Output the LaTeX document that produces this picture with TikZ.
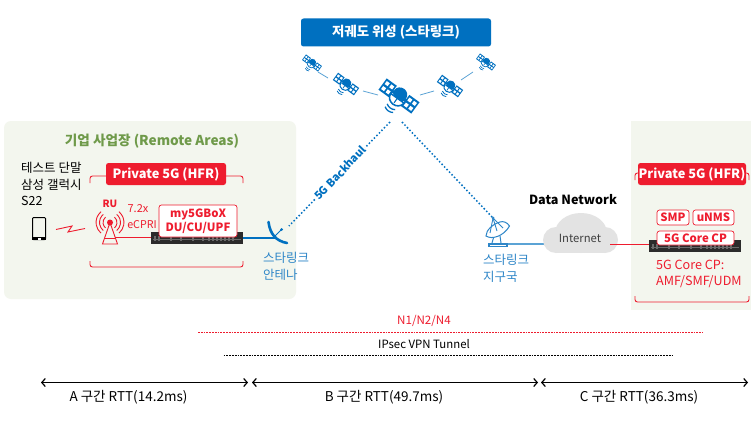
\documentclass[tikz,border=0pt]{standalone}
\usepackage{fontspec}
\setmainfont{Noto Sans CJK KR}
\usetikzlibrary{arrows.meta}
\definecolor{sband}{HTML}{0070C0}
\definecolor{hred}{HTML}{EE1C2E}
\definecolor{areabg}{HTML}{F3F6EE}
\definecolor{areatx}{HTML}{6F9A4A}
\definecolor{skyb}{HTML}{2E86C8}
\definecolor{linkb}{HTML}{5BA3D5}
\definecolor{cloudc}{HTML}{E3E3E3}
\definecolor{srvd}{HTML}{2B2B2B}
\definecolor{srvl}{HTML}{6A6A6A}
\tikzset{
 labeltx/.style={inner sep=0pt,align=left,anchor=west,font=\fontsize{12.5}{16.5}\selectfont},
 redbanner/.style={fill=hred,rounded corners=2.5pt,text=white,inner sep=0pt,font=\bfseries\fontsize{12.8}{14}\selectfont},
 redtag/.style={draw=hred,fill=white,rounded corners=2.5pt,text=hred,inner sep=0pt,line width=.7pt,align=center,font=\bfseries\fontsize{11.4}{14.5}\selectfont},
 brace/.style={draw=hred,line width=.9pt,rounded corners=2.5pt},
 rtt/.style={{Straight Barb[length=3.5pt,width=8pt]}-{Straight Barb[length=3.5pt,width=8pt]},line width=1.2pt,black},
 rtttx/.style={inner sep=0pt,font=\fontsize{13.5}{15}\selectfont},
 satlink/.style={draw=linkb,line width=.8pt},
 backhaul/.style={draw=sband,line width=1.5pt,dash pattern=on 1.5pt off 2.1pt},
 srvbox/.style={fill=srvd,inner sep=0pt},
}
% x, y, scale
\newcommand{\satellite}[3]{%
 \begin{scope}[shift={(#1,#2)},scale=#3,rotate=54]
   \fill[sband] (-5,-14.5) rectangle (5,-5.5);
   \fill[sband] (-5,5.5) rectangle (5,14.5);
   \fill[sband] (-1,-6) rectangle (1,6);
   \foreach \a in {-1,1}{\foreach \b in {-12,-8,8,12}{
     \fill[white] (\a*2.2-1.3,\b-1.3) rectangle (\a*2.2+1.3,\b+1.3);}}
   \fill[sband] (1.5,0) ellipse[x radius=4.8,y radius=5.2];
   \draw[sband,line width=#3*1.1pt,fill=white] (-2,-6) .. controls (-9,-5) and (-9,5) .. (-2,6) -- cycle;
   \draw[sband,line width=#3*.8pt] (-2,0) -- (-6,0);
   \draw[sband,line width=#3*.9pt] (-9.5,-3.5) .. controls (-11,-1.5) and (-11,1.5) .. (-9.5,3.5);
   \draw[sband,line width=#3*.9pt] (-12,-3.5) .. controls (-13.5,-1.5) and (-13.5,1.5) .. (-12,3.5);
 \end{scope}}
% node name, x, y
\newcommand{\rackserver}[3]{%
 \node[srvbox,minimum width=92pt,minimum height=12pt] (#1) at (#2,#3) {};
 \foreach \d in {-42,-38,-26,-16,-4,6,12,16,20,24,28,32,36}{
   \fill[srvl] (#2+\d-1,#3-2) rectangle (#2+\d+1,#3+3);}
 \fill[srvl] (#2-44,#3+.5) rectangle (#2+44,#3+1);}
\begin{document}
\begin{tikzpicture}[x=1pt,y=-1pt]
\useasboundingbox (0,0) rectangle (751,420);
\fill[white] (0,0) rectangle (751,420);
% areas
\fill[areabg,rounded corners=7pt] (4,121) rectangle (296,299);
\fill[areabg] (631,121) rectangle (751,310);
% top banner
\node[fill=sband,rounded corners=2.5pt,minimum width=190pt,minimum height=28pt,text=white,inner sep=0pt,font=\bfseries\fontsize{13.4}{15}\selectfont] (top) at (396,32.5) {저궤도 위성 (스타링크)};
% satellites
\satellite{312}{63}{.68}
\satellite{346}{84}{.9}
\satellite{399}{96}{1.4}
\satellite{450}{86}{.9}
\satellite{486}{62}{.68}
\coordinate (sl1a) at (318,72); \coordinate (sl1b) at (328,78);
\coordinate (sl2a) at (363,91); \coordinate (sl2b) at (378,95);
\coordinate (sl3a) at (420,95); \coordinate (sl3b) at (434,91);
\coordinate (sl4a) at (461,80); \coordinate (sl4b) at (473,72);
\draw[satlink] (sl1a) -- (sl1b);
\draw[satlink] (sl2a) -- (sl2b);
\draw[satlink] (sl3a) -- (sl3b);
\draw[satlink] (sl4a) -- (sl4b);
% backhaul
\coordinate (bhtop1) at (390,122); \coordinate (bhend1) at (289,226); \coordinate (dishfeed) at (281.5,229.5);
\coordinate (bhtop2) at (402,122); \coordinate (gsfeed) at (493,218);
\draw[backhaul] (bhtop1) -- (bhend1);
\draw[backhaul] (bhtop2) -- (gsfeed);
\node[text=sband,fill=white,inner sep=1pt,rotate=46,font=\bfseries\fontsize{11}{13}\selectfont] (bhlabel) at (340,173) {5G Backhaul};
% left area
\node[text=areatx,inner sep=0pt,font=\bfseries\fontsize{13.6}{15}\selectfont] (lefttitle) at (152,141) {기업 사업장 (Remote Areas)};
\node[labeltx,anchor=north west] (tester) at (21,162) {테스트 단말\\삼성 갤럭시\\S22};
% phone
\draw[black,line width=1pt,rounded corners=1pt] (32.5,217.5) rectangle (45.5,239.5);
\fill[black] (32,237) rectangle (46,240);
\fill[white] (37.5,238) rectangle (40.5,239.5);
\coordinate (lz1) at (56,229.5); \coordinate (lz2) at (72,226); \coordinate (lz3) at (68,232); \coordinate (lz4) at (85,228.5);
\draw[hred,line width=.9pt] (lz1) -- (lz2) -- (lz3) -- (lz4);
% braces left
\draw[brace] (90,183) -- (90,176) -- (243,176) -- (243,183);
\draw[brace] (90,261) -- (90,267) -- (243,267) -- (243,261);
\node[redbanner,minimum width=120pt,minimum height=22pt] (pvta) at (166,174) {Private 5G (HFR)};
% RU
\node[text=hred,inner sep=0pt,font=\bfseries\fontsize{10}{12}\selectfont] (rulabel) at (110,204) {RU};
\coordinate (rutop) at (110,222.5);
\draw[hred,line width=.9pt] (rutop) -- (102.5,244) -- (117.5,244) -- cycle;
\draw[hred,line width=.8pt] (105,238) -- (115,238);
\fill[hred] (rutop) circle[radius=3];
\foreach \r in {7,10.5,14}{
  \draw[hred,line width=.9pt] (110+\r*0.64,222.5-\r*0.77) arc[start angle=-50,end angle=50,radius=\r];
  \draw[hred,line width=.9pt] (110-\r*0.64,222.5-\r*0.77) arc[start angle=230,end angle=130,radius=\r];
}
\node[text=hred,inner sep=0pt,font=\fontsize{11}{12}\selectfont] (vii) at (138,209) {7.2x};
\node[text=hred,inner sep=0pt,font=\fontsize{10.7}{12}\selectfont] (ecpri) at (142,225) {eCPRI};
\coordinate (ruport) at (115,237);
\coordinate (srvaport) at (152,237);
\draw[hred,line width=.9pt] (ruport) -- (srvaport);
\rackserver{srva}{197}{238}
\node[redtag,minimum width=78pt,minimum height=32pt] (boxa) at (198,221) {my5GBoX\\DU/CU/UPF};
% starlink dish
\coordinate (dishbase) at (275,236);
\draw[sband,line width=1.2pt] (srva.east) -- (276,238);
\draw[sband,line width=2.6pt,line cap=round] (268.5,222) .. controls (270,234) and (276,241) .. (287,243);
\draw[sband,line width=1pt] (dishbase) -- (dishfeed);
\fill[sband] (dishfeed) circle[radius=1.5];
\node[labeltx,text=skyb,anchor=north west] (dishlabel) at (263,252) {스타링크\\안테나};
% ground station
\draw[skyb,line width=1pt] (494,236) -- (492,243);
\draw[skyb,line width=1pt] (500,236) -- (501,243);
\draw[skyb,line width=1pt,fill=white] (486,236) .. controls (492,240) and (504,236) .. (509.5,226) .. controls (507,222) and (503,221) .. (500,222) .. controls (493,224) and (486,230) .. (486,236) -- cycle;
\draw[skyb,line width=.9pt] (gsfeed) -- (490,233);
\draw[skyb,line width=.9pt] (gsfeed) -- (503,228);
\draw[skyb,line width=.9pt] (gsfeed) -- (497,231);
\fill[skyb] (gsfeed) circle[radius=1.5];
\fill[skyb] (488,243) rectangle (508,247);
\fill[white] (490,244.6) rectangle (506,245.4);
\node[labeltx,text=skyb,anchor=north west] (gslabel) at (483,254) {스타링크\\지구국};
% cloud
\node[inner sep=0pt,font=\bfseries\fontsize{12.6}{14}\selectfont] (dn) at (573,200) {Data Network};
\coordinate (gsport) at (508,244);
\coordinate (cloudw) at (544,244);
\draw[linkb,line width=1.3pt] (gsport) -- (cloudw);
\fill[cloudc] (556,240) circle[radius=13];
\fill[cloudc] (605,240) circle[radius=13];
\fill[cloudc] (581,233) ellipse[x radius=26,y radius=20];
\fill[cloudc] (556,240) rectangle (605,253);
\node[inner sep=0pt,text=black!75,font=\fontsize{11.3}{13}\selectfont] (inet) at (580,238) {Internet};
\coordinate (cloude) at (610,244);
\coordinate (srvbport) at (649,244);
\draw[hred,line width=.9pt] (cloude) -- (srvbport);
% right area
\draw[brace] (635,180) -- (635,173) -- (749,173) -- (749,180);
\draw[brace] (635,296) -- (635,302) -- (749,302) -- (749,296);
\node[redbanner,minimum width=108pt,minimum height=22pt] (pvtb) at (692,174) {Private 5G (HFR)};
\rackserver{srvb}{694.5}{246}
\node[redtag,minimum width=32pt,minimum height=15pt] (smp) at (673,217.5) {SMP};
\node[redtag,minimum width=41pt,minimum height=15pt] (unms) at (713.5,217.5) {uNMS};
\node[redtag,minimum width=77pt,minimum height=14pt] (cp) at (695.5,238) {5G Core CP};
\node[labeltx,text=hred,anchor=north west,font=\fontsize{12.6}{15.5}\selectfont] (cpnote) at (656,260) {5G Core CP:\\AMF/SMF/UDM};
% bottom
\node[rtttx,text=hred,font=\fontsize{11.6}{13}\selectfont] (nlabel) at (424,321) {N1/N2/N4};
\coordinate (na) at (198,332.5); \coordinate (nb) at (703,332.5);
\draw[hred,line width=1.1pt,dash pattern=on 1.8pt off 1pt] (na) -- (nb);
\node[rtttx,font=\fontsize{11.4}{13}\selectfont] (ipsec) at (424,344.5) {IPsec VPN Tunnel};
\coordinate (ta) at (223.5,355.5); \coordinate (tb) at (674,355.5);
\draw[black,line width=1.1pt,dash pattern=on 1.8pt off 1pt] (ta) -- (tb);
\coordinate (ra) at (41,382.5); \coordinate (rb) at (248,382.5);
\coordinate (rc) at (252,382.5); \coordinate (rd) at (538,382.5);
\coordinate (re) at (541,382.5); \coordinate (rf) at (748,382.5);
\draw[rtt] (ra) -- (rb);
\draw[rtt] (rc) -- (rd);
\draw[rtt] (re) -- (rf);
\node[rtttx] (rtta) at (128.5,397) {A 구간 RTT(14.2ms)};
\node[rtttx] (rttb) at (384,397) {B 구간 RTT(49.7ms)};
\node[rtttx] (rttc) at (639,397) {C 구간 RTT(36.3ms)};
\end{tikzpicture}
\end{document}
